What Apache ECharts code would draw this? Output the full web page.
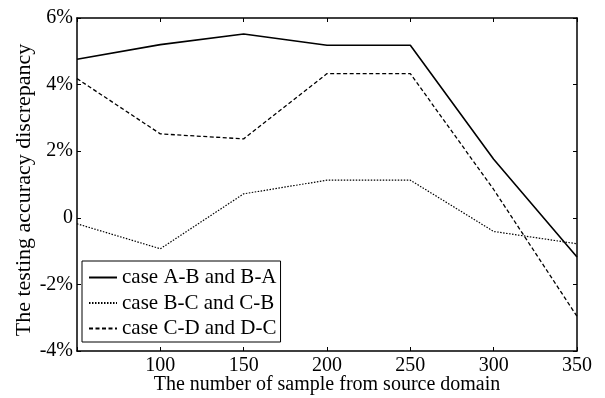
<!DOCTYPE html>
<html>
<head>
<meta charset="utf-8">
<script src="https://cdn.jsdelivr.net/npm/echarts@6/dist/echarts.min.js"></script>
<style>html,body{margin:0;padding:0;background:#fff}#c{width:605px;height:398px}</style>
</head>
<body>
<div id="c"></div>
<script>
var xValues = [50, 100, 150, 200, 250, 300, 350];
var caseAB = [4.76, 5.2, 5.52, 5.18, 5.18, 1.76, -1.18];
var caseBC = [-0.18, -0.93, 0.72, 1.13, 1.13, -0.41, -0.78];
var caseCD = [4.18, 2.52, 2.37, 4.33, 4.33, 0.85, -2.96];
var seriesNames = ['case A-B and B-A', 'case B-C and C-B', 'case C-D and D-C'];
var xTitle = 'The number of sample from source domain';
var yTitle = 'The testing accuracy discrepancy';

function pairs(v){ return xValues.map(function(x,i){ return [x, v[i]]; }); }
var font = 'Liberation Serif';
var chart = echarts.init(document.getElementById('c'));
var axisLine = {show:true, onZero:false, lineStyle:{color:'#000', width:1.5}};
var tick = {show:true, inside:true, length:4, lineStyle:{color:'#000'}};
chart.setOption({
  animation:false,
  backgroundColor:'#fff',
  grid:{left:77, top:18, right:28, bottom:47, containLabel:false, outerBoundsMode:'none'},
  legend:{
    orient:'vertical', left:82, top:261,
    data: seriesNames,
    itemWidth:28, itemHeight:14, itemGap:4.5,
    padding:[6,4,3,6],
    borderColor:'#000', borderWidth:1, backgroundColor:'#fff',
    itemStyle:{opacity:0},
    textStyle:{fontFamily:font, fontSize:21, lineHeight:21, color:'#000'}
  },
  xAxis:[{
    type:'value', min:50, max:350, interval:50, position:'bottom',
    name:xTitle, nameLocation:'middle', nameGap:24, nameMoveOverlap:false,
    nameTextStyle:{fontFamily:font, fontSize:20, color:'#000'},
    axisLine:axisLine, axisTick:tick,
    axisLabel:{fontFamily:font, fontSize:20, color:'#000', margin:5,
      formatter:function(v){ return v===50 ? '' : String(v); }},
    splitLine:{show:false}
  },{
    type:'value', min:50, max:350, interval:50, position:'top',
    axisLine:axisLine, axisTick:tick,
    axisLabel:{show:false}, splitLine:{show:false}
  }],
  yAxis:[{
    type:'value', min:-4, max:6, interval:2, position:'left',
    name:yTitle, nameLocation:'middle', nameGap:42, nameMoveOverlap:false,
    nameTextStyle:{fontFamily:font, fontSize:22, color:'#000', padding:[0,11,0,0]},
    axisLine:axisLine, axisTick:tick,
    axisLabel:{fontFamily:font, fontSize:20, color:'#000', margin:4,
      formatter:function(v){ return v===0 ? '0' : v + '%'; }},
    splitLine:{show:false}
  },{
    type:'value', min:-4, max:6, interval:2, position:'right',
    axisLine:axisLine, axisTick:tick,
    axisLabel:{show:false}, splitLine:{show:false}
  }],
  series:[
    {name:seriesNames[0], type:'line', data:pairs(caseAB), symbol:'none',
     lineStyle:{color:'#000', width:1.6, type:'solid'}, itemStyle:{color:'#000'}},
    {name:seriesNames[1], type:'line', data:pairs(caseBC), symbol:'none',
     lineStyle:{color:'#000', width:1.2, type:[1.5,1.5]}, itemStyle:{color:'#000'}},
    {name:seriesNames[2], type:'line', data:pairs(caseCD), symbol:'none',
     lineStyle:{color:'#000', width:1.3, type:[4,2.5]}, itemStyle:{color:'#000'}}
  ]
});
</script>
</body>
</html>
